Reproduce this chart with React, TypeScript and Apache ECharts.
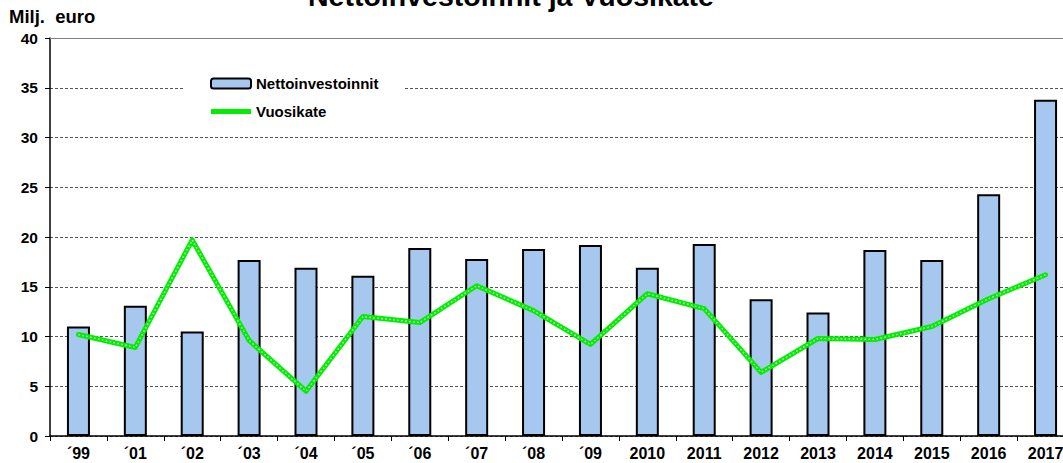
import React, { useEffect, useRef } from "react";
import * as echarts from "echarts";

const categories = ["´99", "´01", "´02", "´03", "´04", "´05", "´06", "´07", "´08", "´09", "2010", "2011", "2012", "2013", "2014", "2015", "2016", "2017"];
const nettoinvestoinnit = [11.0, 13.1, 10.5, 17.7, 16.9, 16.1, 18.9, 17.8, 18.8, 19.2, 16.9, 19.3, 13.75, 12.4, 18.7, 17.7, 24.3, 33.8];
const vuosikate = [10.2, 8.9, 19.7, 9.6, 4.5, 12.0, 11.4, 15.1, 12.6, 9.2, 14.3, 12.8, 6.4, 9.8, 9.7, 11.0, 13.8, 16.2];
const yTicks = { min: 0, max: 40, interval: 5 };

export default function App() {
  const ref = useRef<HTMLDivElement>(null);
  useEffect(() => {
    if (!ref.current) return;
    const chart = echarts.init(ref.current, null, { renderer: "svg" });
    const font = "Liberation Sans, Arial, sans-serif";
    chart.setOption({
      animation: false,
      backgroundColor: "#fff",
      textStyle: { fontFamily: font },
      grid: { left: 50, top: 38, width: 1024, height: 398 },
      legend: {
        orient: "vertical",
        left: 183,
        top: 70,
        data: [
          { name: "Nettoinvestoinnit" },
          { name: "Vuosikate", icon: "path://M0,0 L40,0 L40,5 L0,5 Z", itemStyle: { color: "#00ee00" } },
        ],
        itemWidth: 40,
        itemHeight: 10,
        itemGap: 13,
        backgroundColor: "#fff",
        padding: [6, 26, 6, 27],
        textStyle: { fontFamily: font, fontWeight: "bold", fontSize: 15, color: "#000" },
      },
      graphic: [
        {
          type: "text",
          x: 511,
          y: 10,
          style: {
            text: "Nettoinvestoinnit ja Vuosikate",
            font: "bold 28.5px Liberation Sans, Arial, sans-serif",
            fill: "#000",
            textAlign: "center",
            textVerticalAlign: "bottom",
          },
        },
        {
          type: "text",
          x: 9,
          y: 16,
          style: {
            text: "Milj.  euro",
            font: "bold 18.5px Liberation Sans, Arial, sans-serif",
            fill: "#000",
            textAlign: "left",
            textVerticalAlign: "middle",
          },
        },
      ],
      xAxis: [
        {
          type: "category",
          data: categories,
          axisLine: { lineStyle: { color: "#000", width: 1.5 } },
          axisTick: { show: true, alignWithLabel: false, length: 5, lineStyle: { color: "#000" } },
          axisLabel: { fontFamily: font, fontWeight: "bold", fontSize: 16, color: "#000", margin: 9, interval: 0 },
        },
        {
          type: "category",
          data: categories,
          position: "top",
          axisLine: { lineStyle: { color: "#808080", width: 1 } },
          axisTick: { show: false },
          axisLabel: { show: false },
        },
      ],
      yAxis: {
        type: "value",
        min: yTicks.min,
        max: yTicks.max,
        interval: yTicks.interval,
        axisLine: { show: true, lineStyle: { color: "#000", width: 1.5 } },
        axisTick: { show: true, length: 5, lineStyle: { color: "#000" } },
        axisLabel: { fontFamily: font, fontWeight: "bold", fontSize: 15.5, color: "#000", margin: 12 },
        splitLine: { show: true, lineStyle: { color: "#555", width: 1, type: [3, 2] } },
      },
      series: [
        {
          name: "Nettoinvestoinnit",
          type: "bar",
          data: nettoinvestoinnit,
          barWidth: 23,
          itemStyle: { color: "#a6c8ee", borderColor: "#000", borderWidth: 2 },
        },
        {
          name: "Vuosikate",
          type: "line",
          data: vuosikate,
          symbol: "none",
          lineStyle: { color: "#00ee00", width: 5, cap: "round", join: "round" },
          itemStyle: { color: "#00ee00" },
          z: 3,
        },
        {
          name: "overlay",
          type: "line",
          data: vuosikate,
          symbol: "none",
          lineStyle: { color: "#e6ffe6", width: 1.4, type: [1.5, 2.5] },
          z: 4,
          silent: true,
        },
      ],
    });
    return () => chart.dispose();
  }, []);
  return (
    <div style={{ position: "fixed", left: 0, top: 0, width: 1063, height: 463, overflow: "hidden", background: "#fff" }}>
      <div ref={ref} style={{ width: 1090, height: 463 }} />
    </div>
  );
}
